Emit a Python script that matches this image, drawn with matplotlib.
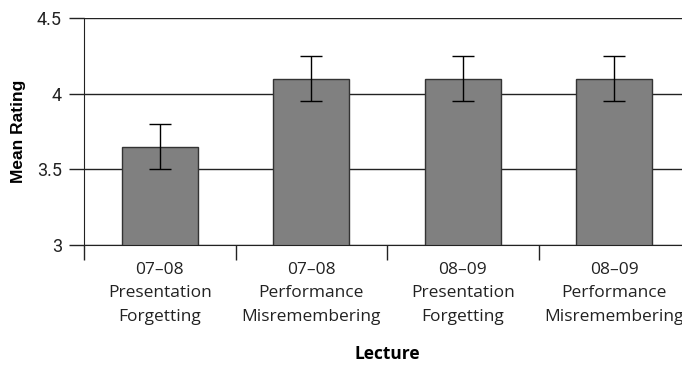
import matplotlib
matplotlib.use("Agg")
import matplotlib.pyplot as plt
import numpy as np
from matplotlib.ticker import FixedLocator

categories = ["07\u201308\nPresentation\nForgetting",
              "07\u201308\nPerformance\nMisremembering",
              "08\u201309\nPresentation\nForgetting",
              "08\u201309\nPerformance\nMisremembering"]
means = [3.65, 4.1, 4.1, 4.1]
errors = [0.15, 0.15, 0.15, 0.15]
yticks = [3, 3.5, 4, 4.5]
ytick_labels = ["3", "3.5", "4", "4.5"]

W, H = 682, 367
fig = plt.figure(figsize=(W/100, H/100), dpi=100)
ax = fig.add_axes([84/W, 1-245/H, 606/W, (245-18)/H])

x = np.arange(len(categories))
ax.set_axisbelow(True)
ax.yaxis.grid(True, color="#222222", linewidth=1.0)
ax.bar(x, means, width=0.5, color="#808080", edgecolor="#333333", linewidth=1.0, zorder=2)
ax.errorbar(x, means, yerr=errors, fmt="none", ecolor="black", elinewidth=1.0,
            capsize=8, capthick=1.0, zorder=3)

ax.set_xlim(-0.5, len(categories) - 0.5)
ax.set_ylim(3, 4.5)
ax.set_yticks(yticks)
ax.set_yticklabels(ytick_labels, fontfamily="Roboto", fontsize=13, color="#222222")
ax.tick_params(axis="y", length=11, width=1.0, color="#222222", pad=5)

ax.set_xticks(x)
ax.set_xticklabels(categories, fontfamily="Open Sans", fontsize=12.5, color="#222222",
                   linespacing=1.62)
ax.tick_params(axis="x", which="major", length=0, pad=12)
ax.xaxis.set_minor_locator(FixedLocator(list(np.arange(len(categories)) - 0.5)))
ax.tick_params(axis="x", which="minor", length=11, width=1.0, color="#222222")

for s in ["top", "right"]:
    ax.spines[s].set_visible(False)
ax.spines["left"].set_color("#222222")
ax.spines["bottom"].set_color("#222222")

ax.set_ylabel("Mean Rating", fontfamily="Liberation Sans", fontweight="bold", fontsize=12.5,
              labelpad=8)
ax.set_xlabel("Lecture", fontfamily="Open Sans", fontweight="bold", fontsize=12.5, labelpad=15)

fig.savefig("out.png", dpi=100)
